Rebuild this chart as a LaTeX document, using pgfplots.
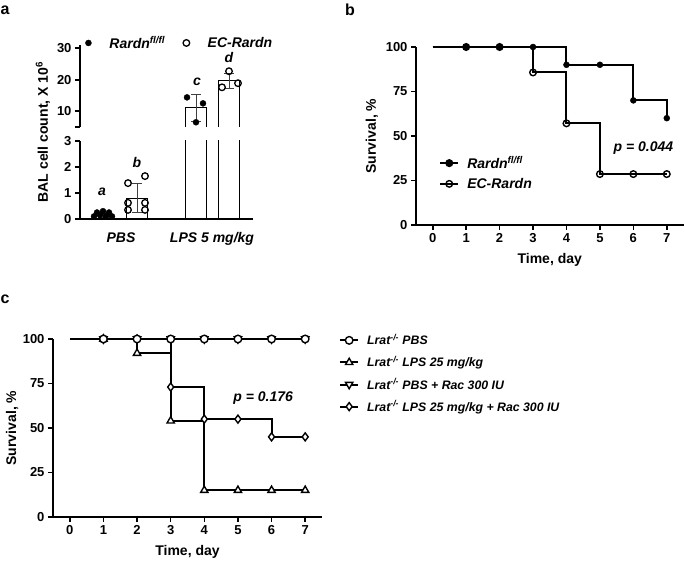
\documentclass[border=0pt]{standalone}
\usepackage{fontspec}
\setmainfont{Liberation Sans}
\usepackage{pgfplots}
\pgfplotsset{compat=1.18}
\newcommand{\fs}[1]{\fontsize{#1}{#1}\selectfont\bfseries}
\pgfplotsset{
  base/.style={scale only axis, anchor=south west,
    axis line style={line width=1.6pt,-},
    every tick/.style={line width=1.6pt,black},
    tick align=outside, major tick length=5pt,
    tick label style={font=\fs{13}},
    /pgf/number format/assume math mode=true,
  },
  km/.style={base, axis x line*=bottom, axis y line*=left,
    xmin=-0.5, xmax=7.5, ymin=0, ymax=100,
    xtick={0,...,7}, ytick={0,25,50,75,100}, clip=false,
    every axis x label/.style={at={(axis description cs:0.5,-0.197)}, anchor=center, font=\fs{14}},
    xlabel={Time, day}, ylabel={Survival, \%},
    legend cell align=left,
    legend image code/.code={\draw[#1,mark=none] (0pt,0pt) -- (18pt,0pt);
      \draw[#1,only marks] plot coordinates {(9pt,0pt)};},
  },
  kml/.style={const plot, line width=2pt, black, solid, forget plot},
  barside/.style={line width=1.3pt, black, forget plot},
}
\begin{document}
\begin{tikzpicture}
\useasboundingbox (0,0) rectangle (685pt,561pt);
% panel letters
\node[font=\fs{16}] at (5pt,551pt) {a};
\node[font=\fs{16}] at (350pt,551pt) {b};
\node[font=\fs{16}] at (5pt,262pt) {c};

% ---------- panel a, lower part ----------
\begin{axis}[base, at={(80pt,342pt)}, width=173pt, height=78pt,
  xmin=0, xmax=173, ymin=0, ymax=3,
  axis x line*=bottom, axis y line*=left,
  ytick={0,1,2,3}, xtick={41,132}, xticklabels={PBS, LPS 5 mg/kg},
  xtick style={draw=none},
  x tick label style={font=\fs{14}\itshape, yshift=-5pt}, clip=true]
\addplot[ybar, bar width=21pt, bar shift=0pt, fill=white, draw=black, line width=1.3pt]
  coordinates {(23,0.15) (57,0.8) (116,11.1) (149,19.7)};
\addplot[draw=none, mark=none, error bars/.cd, y dir=both, y explicit,
  error bar style={black!75, line width=1pt}, error mark options={rotate=90, mark size=5pt, black!75, line width=1pt}]
  coordinates {(23,0.15) +- (0,0.08) (57,0.8) +- (0,0.55)};
\addplot[only marks, mark=*, mark size=3pt, black]
  coordinates {(14,0.1) (17,0.25) (20,0.15) (23,0.3) (26,0.1) (29,0.25) (32,0.1)};
\addplot[only marks, mark=o, mark size=3.3pt, mark options={fill=white, line width=1.3pt}, black]
  coordinates {(48,1.38) (65,1.65) (48,0.62) (65,0.62) (48,0.35) (65,0.35)};
\end{axis}

% ---------- panel a, upper part ----------
\begin{axis}[base, at={(80pt,434pt)}, width=173pt, height=81.9pt,
  xmin=0, xmax=173, ymin=5, ymax=31,
  hide x axis, axis y line*=left,
  ytick={5,10,20,30}, yticklabels={,10,20,30}, clip=true,
  legend columns=2,
  legend style={at={(axis description cs:0.013,1.026)}, anchor=west, draw=none, fill=none,
    font=\fs{14}\itshape,
    /tikz/every odd column/.append style={column sep=16pt},
    /tikz/every even column/.append style={column sep=16pt}},
  legend image code/.code={\draw[#1] plot coordinates {(0pt,0pt)};}]
\addplot[barside] coordinates {(105.5,0) (105.5,11.1) (126.5,11.1) (126.5,0)};
\addplot[barside] coordinates {(138.5,0) (138.5,19.7) (159.5,19.7) (159.5,0)};
\addplot[forget plot, draw=none, mark=none, error bars/.cd, y dir=both, y explicit,
  error bar style={black!75, line width=1pt}, error mark options={rotate=90, mark size=5pt, black!75, line width=1pt}]
  coordinates {(116,11.1) +- (0,4.2) (149,19.7) +- (0,2.4)};
\addplot[forget plot, only marks, mark=*, mark size=3pt, black]
  coordinates {(107,14.4) (123,12.5) (116,6.5)};
\addplot[forget plot, only marks, mark=o, mark size=3.3pt, mark options={fill=white, line width=1.3pt}, black]
  coordinates {(149,22.7) (142,17.6) (158,18.9)};
\addlegendimage{only marks, mark=*, mark size=3pt, black}
\addlegendentry{Rardn\textsuperscript{fl/fl}}
\addlegendimage{only marks, mark=o, mark size=3.3pt, mark options={line width=1.3pt}, black}
\addlegendentry{EC-Rardn}
\end{axis}
\node[font=\fs{14}, rotate=90] at (43pt,429pt) {BAL cell count, X 10\textsuperscript{6}};
\node[font=\fs{14}\itshape] at (102pt,369pt) {a};
\node[font=\fs{14}\itshape] at (137pt,398pt) {b};
\node[font=\fs{14}\itshape] at (197pt,479pt) {c};
\node[font=\fs{14}\itshape] at (229pt,503pt) {d};

% ---------- panel b ----------
\begin{axis}[km, at={(416pt,336pt)}, width=267.5pt, height=178pt,
  every axis y label/.style={at={(axis description cs:-0.1645,0.5)}, anchor=center, rotate=90, font=\fs{14}},
  legend style={at={(axis description cs:0.075,0.41)}, anchor=north west, draw=none, fill=none,
    font=\fs{14}\itshape, row sep=4pt,
    /tikz/every odd column/.append style={column sep=6pt}}]
\addplot[kml] coordinates {(0,100) (1,100) (2,100) (3,100) (4,90) (5,90) (6,70) (7,60)};
\addplot[kml] coordinates {(0,100) (1,100) (2,100) (3,85.7) (4,57.1) (5,28.6) (6,28.6) (7,28.6)};
\addplot[only marks, mark=o, mark size=3.3pt, mark options={line width=1.4pt}, black, forget plot]
  coordinates {(1,100) (2,100) (3,85.7) (4,57.1) (5,28.6) (6,28.6) (7,28.6)};
\addplot[only marks, mark=*, mark size=3pt, black, forget plot]
  coordinates {(1,100) (2,100) (3,100) (4,90) (5,90) (6,70) (7,60)};
\addlegendimage{line width=2pt, black, mark=*, mark size=3pt}
\addlegendentry{Rardn\textsuperscript{fl/fl}}
\addlegendimage{line width=2pt, black, mark=o, mark size=3.3pt, mark options={line width=1.4pt}}
\addlegendentry{EC-Rardn}
\node[font=\fs{14}\itshape] at (axis cs:6.3,43) {p = 0.044};
\end{axis}

% ---------- panel c ----------
\begin{axis}[km, at={(53pt,44pt)}, width=269pt, height=178pt,
  every axis y label/.style={at={(axis description cs:-0.152,0.5)}, anchor=center, rotate=90, font=\fs{14}},
  legend style={at={(axis description cs:1.052,1.05)}, anchor=north west, draw=none, fill=none,
    font=\fs{12.3}\itshape, row sep=6pt,
    /tikz/every odd column/.append style={column sep=6pt}}]
\addplot[kml] coordinates {(0,100) (1,100) (2,100) (3,100) (4,100) (5,100) (6,100) (7,100)};
\addplot[kml] coordinates {(0,100) (1,100) (2,92) (3,54) (4,15) (5,15) (6,15) (7,15)};
\addplot[kml] coordinates {(0,100) (1,100) (2,100) (3,73) (4,55) (5,55) (6,45) (7,45)};
\addplot[only marks, mark=diamond*, mark size=4pt, mark options={fill=white, line width=1.4pt}, black, forget plot]
  coordinates {(1,100) (2,100) (3,73) (4,55) (5,55) (6,45) (7,45)};
\addplot[only marks, mark=triangle*, mark size=4.2pt, mark options={fill=white, line width=1.4pt}, black, forget plot]
  coordinates {(1,100) (2,92) (3,54) (4,15) (5,15) (6,15) (7,15)};
\addplot[only marks, mark=triangle*, mark size=4.2pt, mark options={fill=white, line width=1.4pt, rotate=180}, black, forget plot]
  coordinates {(1,100) (2,100) (3,100) (4,100) (5,100) (6,100) (7,100)};
\addplot[only marks, mark=*, mark size=3.8pt, mark options={fill=white, line width=1.4pt}, black, forget plot]
  coordinates {(1,100) (2,100) (3,100) (4,100) (5,100) (6,100) (7,100)};
\addlegendimage{line width=2pt, black, mark=*, mark size=3.8pt, mark options={fill=white, line width=1.4pt}}
\addlegendentry{Lrat\textsuperscript{-/-} PBS}
\addlegendimage{line width=2pt, black, mark=triangle*, mark size=4.2pt, mark options={fill=white, line width=1.4pt}}
\addlegendentry{Lrat\textsuperscript{-/-} LPS 25 mg/kg}
\addlegendimage{line width=2pt, black, mark=triangle*, mark size=4.2pt, mark options={fill=white, line width=1.4pt, rotate=180}}
\addlegendentry{Lrat\textsuperscript{-/-} PBS + Rac 300 IU}
\addlegendimage{line width=2pt, black, mark=diamond*, mark size=4pt, mark options={fill=white, line width=1.4pt}}
\addlegendentry{Lrat\textsuperscript{-/-} LPS 25 mg/kg + Rac 300 IU}
\node[font=\fs{14}\itshape] at (axis cs:5.75,67) {p = 0.176};
\end{axis}
\end{tikzpicture}
\end{document}
